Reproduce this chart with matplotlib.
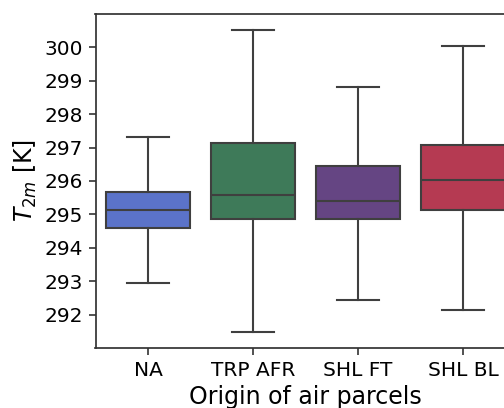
import matplotlib
matplotlib.use("Agg")
import matplotlib.pyplot as plt

categories = ["NA", "TRP AFR", "SHL FT", "SHL BL"]
whislo = [292.95, 291.49, 292.45, 292.13]
q1 = [294.59, 294.86, 294.86, 295.13]
med = [295.13, 295.58, 295.41, 296.02]
q3 = [295.67, 297.13, 296.45, 297.08]
whishi = [297.32, 300.52, 298.80, 300.05]
colors = ["#5b73c9", "#3e7a59", "#654583", "#b53a52"]

plt.rcParams["font.family"] = ["DejaVu Sans"]
fig = plt.figure(figsize=(5.04, 4.08), dpi=100)
ax = fig.add_axes([95.5 / 504, 1 - 348 / 408, 420 / 504, 334 / 408])

stats = []
for i, c in enumerate(categories):
    stats.append(dict(label=c, whislo=whislo[i], q1=q1[i], med=med[i],
                      q3=q3[i], whishi=whishi[i], fliers=[]))

lc = "#3f3f3f"
lw = 1.5
bp = ax.bxp(stats, positions=range(len(categories)), widths=0.8,
            capwidths=0.4, patch_artist=True, showfliers=False,
            boxprops=dict(edgecolor=lc, linewidth=lw),
            medianprops=dict(color=lc, linewidth=lw),
            whiskerprops=dict(color=lc, linewidth=lw),
            capprops=dict(color=lc, linewidth=lw))
for patch, col in zip(bp["boxes"], colors):
    patch.set_facecolor(col)

ax.set_xlim(-0.5, 3.5)
ax.set_ylim(291.0, 301.0)
ax.set_yticks(range(292, 301))
ax.set_xticks(range(len(categories)))
ax.set_xticklabels(categories)
ax.tick_params(labelsize=14.5, color="#333333", length=5, width=1.2, pad=4)
for s in ax.spines.values():
    s.set_linewidth(1.25)
    s.set_color("#333333")
ax.set_ylabel(r"$T_{2m}$ [K]", fontsize=17, labelpad=4)
ax.set_xlabel("Origin of air parcels", fontsize=17, labelpad=4)

fig.savefig("out.png", dpi=100)
